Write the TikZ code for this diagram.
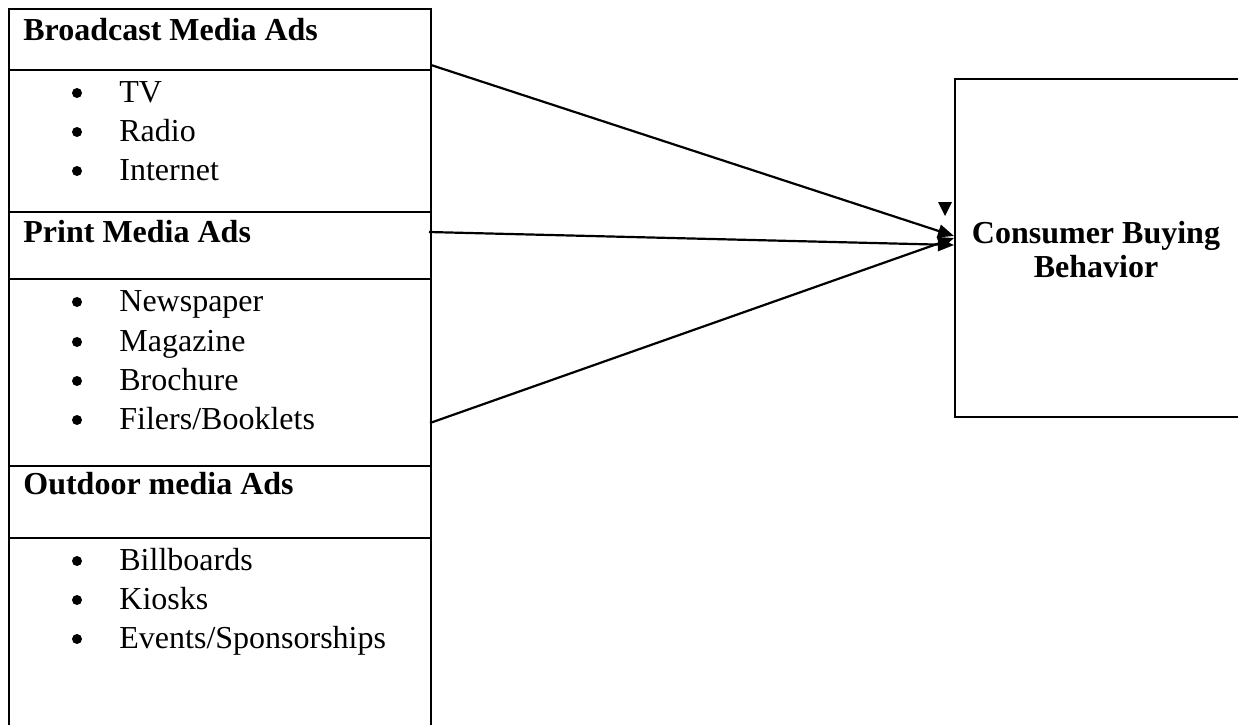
\documentclass[tikz,border=0pt]{standalone}
\usepackage{fontspec}
\setmainfont{Liberation Serif}
\usetikzlibrary{arrows.meta}
\begin{document}
\begin{tikzpicture}[x=0.5pt,y=-0.5pt,
  rule/.style={line width=1pt},
  head/.style={anchor=base west,inner sep=0pt,font=\fontsize{16}{19}\selectfont\bfseries},
  item/.style={anchor=base west,inner sep=0pt,font=\fontsize{16}{19}\selectfont},
  dot/.style={circle,fill,inner sep=0pt,minimum size=5pt},
  conn/.style={line width=1.1pt,-{Triangle[length=8pt,width=6.5pt]}}]
\useasboundingbox (0,0) rectangle (1238,724);
% left column boxes
\draw[rule] (9,9) rectangle (431,740);
\draw[rule] (9,70) -- (431,70);
\draw[rule] (9,212) -- (431,212);
\draw[rule] (9,279) -- (431,279);
\draw[rule] (9,466) -- (431,466);
\draw[rule] (9,538) -- (431,538);
% right box
\draw[rule] (955,79) rectangle (1260,417);
% headers
\node[head] (bh) at (23,40) {Broadcast Media Ads};
\node[head] (ph) at (23,242) {Print Media Ads};
\node[head] (oh) at (23,494) {Outdoor media Ads};
% items
\foreach \t/\y [count=\i] in {TV/102,Radio/141,Internet/180,Newspaper/311,Magazine/351,Brochure/390,Filers\slash Booklets/429,Billboards/570,Kiosks/609,Events\slash Sponsorships/648}{
  \node[dot] (d\i) at (77,\y-9) {};
  \node[item] (t\i) at (119,\y) {\t};
}
% consumer node
\node[font=\fontsize{16}{17}\selectfont\bfseries,align=center,anchor=base,inner sep=0pt] (cb) at (1096,277) {Consumer Buying\\Behavior};
% connectors
\coordinate (s1) at (431,65);
\coordinate (s2) at (429,232);
\coordinate (s3) at (430,423);
\coordinate (e1) at (954,236);
\coordinate (e2) at (954,245);
\coordinate (e3) at (954,238);
\draw[conn] (s1) -- (e1);
\draw[conn] (s2) -- (e2);
\draw[conn] (s3) -- (e3);
\fill (938,202) -- (952,202) -- (945,216) -- cycle;
\end{tikzpicture}
\end{document}
